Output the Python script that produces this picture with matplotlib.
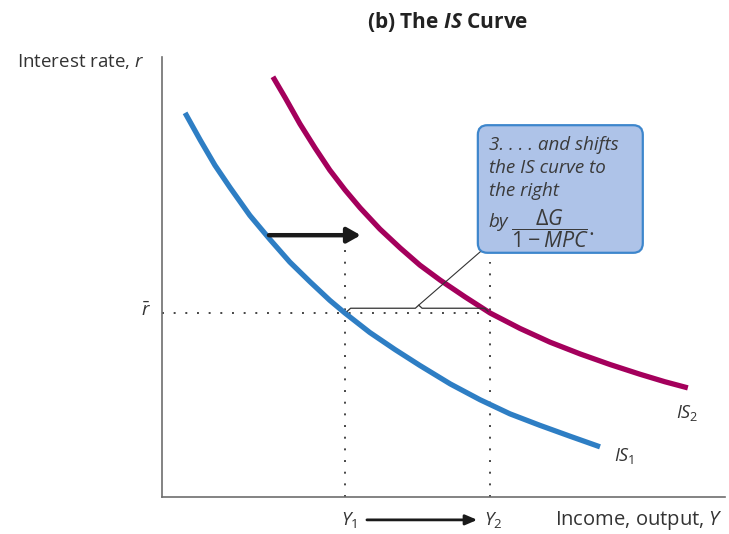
import matplotlib.pyplot as plt
from matplotlib.patches import FancyBboxPatch

plt.rcParams['font.family'] = ['Open Sans', 'DejaVu Sans']
plt.rcParams['mathtext.fontset'] = 'custom'
plt.rcParams['mathtext.rm'] = 'Open Sans'
plt.rcParams['mathtext.it'] = 'Open Sans:italic'
plt.rcParams['mathtext.bf'] = 'Open Sans:bold'
plt.rcParams['mathtext.bfit'] = 'Open Sans:italic:bold'

# IS1 curve: income Y vs interest rate r (0-100 scale)
is1_y = [4.1, 6.8, 9.4, 12.1, 15.6, 19.2, 22.7, 26.3, 29.8, 32.5, 36.9, 41.4,
         45.8, 51.2, 56.5, 61.8, 67.1, 72.5, 77.8]
is1_r = [87.3, 81.1, 75.4, 70.3, 64.0, 58.5, 53.4, 48.9, 44.7, 41.8, 37.4, 33.5,
         29.9, 25.7, 22.1, 18.9, 16.3, 13.8, 11.4]

# IS2 curve, shifted right
is2_y = [19.7, 21.9, 24.5, 27.2, 29.8, 32.5, 35.2, 38.7, 42.3, 45.8, 49.4, 53.8,
         58.3, 63.6, 68.9, 74.3, 79.6, 84.9, 89.3, 93.4]
is2_r = [95.5, 90.7, 84.8, 79.3, 74.3, 69.8, 65.7, 60.9, 56.6, 52.7, 49.3, 45.5,
         41.8, 38.3, 35.2, 32.5, 30.1, 27.9, 26.2, 24.8]

y1, y2 = 32.5, 58.3
r_bar = 41.8

blue = '#2e7ec4'
magenta = '#a4005c'
dark = '#333333'

fig = plt.figure(figsize=(7.29, 5.34), dpi=100)
ax = fig.add_axes([162 / 729, 37 / 534, 563 / 729, 440 / 534])
ax.set_xlim(0, 100)
ax.set_ylim(0, 100)
ax.set_xticks([])
ax.set_yticks([])
for s in ['top', 'right']:
    ax.spines[s].set_visible(False)
for s in ['left', 'bottom']:
    ax.spines[s].set_color('#6e6e6e')
    ax.spines[s].set_linewidth(1.2)

# dotted guides
dots = dict(color='#444444', lw=1.4, ls=(0, (1, 5)))
ax.plot([0, y2], [r_bar, r_bar], **dots)
ax.plot([y1, y1], [0, 58.4], **dots)
ax.plot([y2, y2], [0, 53.4], **dots)

# curves
ax.plot(is1_y, is1_r, color=blue, lw=3.8, solid_capstyle='butt')
ax.plot(is2_y, is2_r, color=magenta, lw=3.8, solid_capstyle='butt')

# bracket and pointer to callout
ax.plot([y1 + 0.4, y1 + 1.0, 45.0, 45.6, 46.2, y2 - 1.0, y2 - 0.4],
        [r_bar + 0.4, r_bar + 1.1, r_bar + 1.1, r_bar + 1.8, r_bar + 1.1, r_bar + 1.1, r_bar + 0.4],
        color=dark, lw=0.9)
ax.plot([45.6, 56.5], [r_bar + 1.8, 55.7], color=dark, lw=0.8)

# callout box
box = FancyBboxPatch((56.1, 55.5), 29.3, 29.0, boxstyle='round,pad=0,rounding_size=1.7',
                     mutation_aspect=1.28, facecolor='#aec3e8', edgecolor='#3d86cc', lw=1.6)
ax.add_patch(box)
txt = dict(fontsize=13.5, style='italic', color='#3a3a3a', va='center', ha='left')
ax.text(58.0, 80.1, '3. . . . and shifts', **txt)
ax.text(58.0, 74.8, 'the IS curve to', **txt)
ax.text(58.0, 69.5, 'the right', **txt)
ax.text(58.0, 62.6, 'by', **txt)
ax.text(62.0, 61.0, r'$\dfrac{\Delta G}{1 - MPC}$.', fontsize=15.5, color='#3a3a3a',
        va='center', ha='left')

# shift arrow
ax.annotate('', xy=(35.3, 59.5), xytext=(19.0, 59.5),
            arrowprops=dict(arrowstyle='-|>,head_length=0.8,head_width=0.45',
                            lw=3.2, color='#1a1a1a', shrinkA=0, shrinkB=0))

# labels on axes
lab = dict(fontsize=13.5, color=dark, va='center')
ax.text(-2.8, r_bar + 0.5, r'$\bar{r}$', ha='center', **lab)
ax.text(y1 + 0.7, -5.3, r'$Y_1$', ha='center', **lab)
ax.text(y2 + 0.6, -5.3, r'$Y_2$', ha='center', **lab)
ax.annotate('', xy=(56.0, -5.2), xytext=(36.4, -5.2), annotation_clip=False,
            arrowprops=dict(arrowstyle='-|>,head_length=0.7,head_width=0.3',
                            lw=2.0, color='#1a1a1a', shrinkA=0, shrinkB=0))
ax.text(99.6, -5.3, r'Income, output, $Y$', ha='right', fontsize=14.5, color=dark, va='center')
ax.text(-25.8, 99.0, r'Interest rate, $r$', ha='left', fontsize=13.5, color=dark, va='center')
ax.text(80.3, 9.3, r'$IS_1$', ha='left', fontsize=13, color=dark, va='center')
ax.text(91.3, 19.1, r'$IS_2$', ha='left', fontsize=13, color=dark, va='center')

fig.text(448 / 729, 1 - 22 / 534, r'(b) The $\mathbfit{IS}$ Curve', fontsize=15,
         fontweight='bold', color='#222222', ha='center', va='center')

fig.savefig('out.png', dpi=100)
